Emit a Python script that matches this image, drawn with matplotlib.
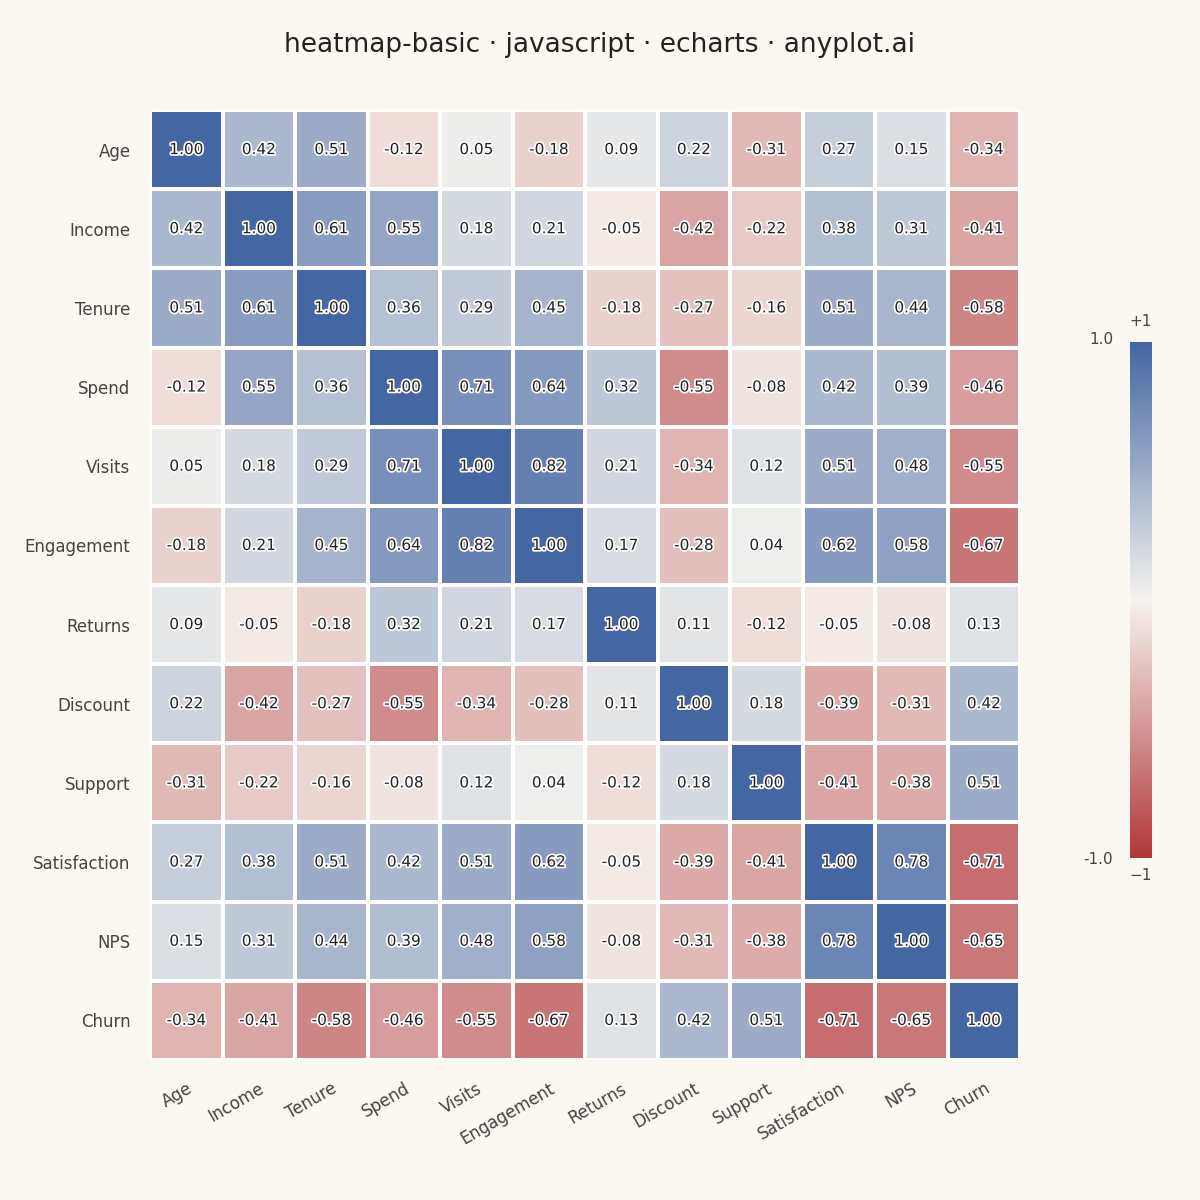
import numpy as np
import matplotlib
matplotlib.use("Agg")
import matplotlib.pyplot as plt
import matplotlib.patheffects as pe
from matplotlib.colors import LinearSegmentedColormap

labels = ["Age","Income","Tenure","Spend","Visits","Engagement","Returns","Discount","Support","Satisfaction","NPS","Churn"]
corr = [
[1.00,0.42,0.51,-0.12,0.05,-0.18,0.09,0.22,-0.31,0.27,0.15,-0.34],
[0.42,1.00,0.61,0.55,0.18,0.21,-0.05,-0.42,-0.22,0.38,0.31,-0.41],
[0.51,0.61,1.00,0.36,0.29,0.45,-0.18,-0.27,-0.16,0.51,0.44,-0.58],
[-0.12,0.55,0.36,1.00,0.71,0.64,0.32,-0.55,-0.08,0.42,0.39,-0.46],
[0.05,0.18,0.29,0.71,1.00,0.82,0.21,-0.34,0.12,0.51,0.48,-0.55],
[-0.18,0.21,0.45,0.64,0.82,1.00,0.17,-0.28,0.04,0.62,0.58,-0.67],
[0.09,-0.05,-0.18,0.32,0.21,0.17,1.00,0.11,-0.12,-0.05,-0.08,0.13],
[0.22,-0.42,-0.27,-0.55,-0.34,-0.28,0.11,1.00,0.18,-0.39,-0.31,0.42],
[-0.31,-0.22,-0.16,-0.08,0.12,0.04,-0.12,0.18,1.00,-0.41,-0.38,0.51],
[0.27,0.38,0.51,0.42,0.51,0.62,-0.05,-0.39,-0.41,1.00,0.78,-0.71],
[0.15,0.31,0.44,0.39,0.48,0.58,-0.08,-0.31,-0.38,0.78,1.00,-0.65],
[-0.34,-0.41,-0.58,-0.46,-0.55,-0.67,0.13,0.42,0.51,-0.71,-0.65,1.00],
]
data = np.array(corr)
n = len(labels)

bg = "#faf8f1"
cmap = LinearSegmentedColormap.from_list("rb", ["#b2373a", "#f8f3ee", "#f1f1ee", "#4466a3"], N=256)
cmap = LinearSegmentedColormap.from_list("rb", [(0, "#b2373a"), (0.5, "#f6f4ef"), (1, "#4466a3")], N=256)

fig = plt.figure(figsize=(12, 12), dpi=100, facecolor=bg)
ax = fig.add_axes([150/1200, 1-1060/1200, 870/1200, 950/1200])
ax.set_facecolor(bg)
X, Y = np.meshgrid(np.arange(n+1), np.arange(n+1))
ax.pcolormesh(X, Y, data, cmap=cmap, vmin=-1, vmax=1, edgecolors="white", linewidth=1.5)
ax.set_xlim(0, n); ax.set_ylim(n, 0)
for i in range(n):
    for j in range(n):
        ax.text(j+0.5, i+0.5, f"{data[i, j]:.2f}", ha="center", va="center", fontsize=11, color="#222222",
                path_effects=[pe.withStroke(linewidth=2.5, foreground="white")])
ax.set_xticks(np.arange(n)+0.5)
ax.set_xticklabels(labels, rotation=30, ha="right", rotation_mode="anchor", fontsize=12, color="#444444")
ax.set_yticks(np.arange(n)+0.5)
ax.set_yticklabels(labels, fontsize=12, color="#444444")
ax.tick_params(length=0, pad=14)
for s in ax.spines.values():
    s.set_visible(False)

fig.text(0.5, 1-45/1200, "heatmap-basic · javascript · echarts · anyplot.ai", ha="center", va="center",
         fontsize=19, color="#222222")

cax = fig.add_axes([1130/1200, 1-858/1200, 22/1200, 516/1200])
grad = np.linspace(-1, 1, 256).reshape(-1, 1)
cax.imshow(grad, cmap=cmap, aspect="auto", origin="lower", extent=[0, 1, -1, 1])
cax.set_axis_off()
fig.text(1113/1200, 1-340/1200, "1.0", ha="right", va="center", fontsize=11, color="#444444")
fig.text(1113/1200, 1-860/1200, "-1.0", ha="right", va="center", fontsize=11, color="#444444")
fig.text(1141/1200, 1-322/1200, "+1", ha="center", va="center", fontsize=11, color="#444444")
fig.text(1141/1200, 1-876/1200, "−1", ha="center", va="center", fontsize=11, color="#444444")

fig.savefig("out.png", dpi=100, facecolor=bg)
